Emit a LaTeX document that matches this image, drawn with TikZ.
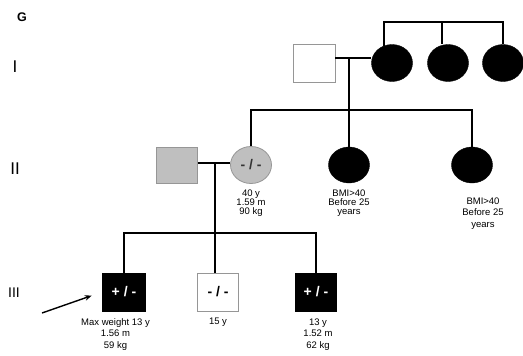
\documentclass[tikz,border=0pt]{standalone}
\usepackage{fontspec}
\setmainfont{Liberation Sans}
\usetikzlibrary{positioning}
\usetikzlibrary{shapes.geometric}
\usetikzlibrary{arrows.meta}

\definecolor{carrier}{RGB}{191,191,191}
\definecolor{grayline}{RGB}{150,150,150}

\tikzset{
  male/.style={rectangle, minimum width=42pt, minimum height=38pt, inner sep=0pt, draw=grayline, line width=0.8pt},
  female/.style={ellipse, minimum width=41pt, minimum height=37pt, inner sep=0pt},
  affected/.style={fill=black, draw=black, text=white},
  geno/.style={font=\fontsize{14}{14}\selectfont\bfseries},
  info/.style={align=center, inner sep=0pt, font=\fontsize{9.5}{11.5}\selectfont},
  tight/.style={font=\fontsize{9.5}{9}\selectfont},
  gen/.style={font=\fontsize{17}{17}\selectfont},
  line/.style={line width=1.7pt}
}

\begin{document}
\begin{tikzpicture}[x=1pt, y=-1pt]
  \useasboundingbox (0,0) rectangle (523,356);

  \node[font=\fontsize{12.5}{12.5}\selectfont\bfseries] at (22,17.5) (G) {G};
  \node[gen] at (15,67) (I) {I};
  \node[gen] at (15,169) (II) {II};
  \node[gen, font=\fontsize{14}{14}\selectfont] at (14,293) (III) {III};

  % generation I
  \node[male, fill=white] at (314,63) (gf) {};
  \node[female, affected] at (392,63) (gm) {};
  \node[female, affected] at (448,63) (aunt1) {};
  \node[female, affected] at (503,63) (aunt2) {};

  % generation II
  \node[male, fill=carrier, minimum width=41pt, minimum height=36pt] at (177,165) (father) {};
  \node[female, fill=carrier, draw=grayline, line width=0.8pt, geno, text=black!80] at (251,165) (mother) {- / -};
  \node[female, affected, minimum height=36pt] at (349,165) (sis1) {};
  \node[female, affected, minimum height=36pt] at (472,165) (sis2) {};

  \node[info, tight, below=6pt of mother] (motherinfo) {40 y\\1.59 m\\90 kg};
  \node[info, tight, below=6pt of sis1] (sis1info) {BMI>40\\Before 25\\years};
  \node[info, below=14pt of sis2, xshift=11pt] (sis2info) {BMI>40\\Before 25\\years};

  % generation III
  \node[male, affected, geno, minimum width=43pt] at (124,292) (proband) {+ / -};
  \node[male, fill=white, geno, minimum width=41pt] at (218,292) (brother1) {- / -};
  \node[male, affected, geno, minimum width=41pt] at (316,292) (brother2) {+ / -};

  \node[info, below=7pt of proband, xshift=-8.5pt] (probandinfo) {Max weight 13 y\\1.56 m\\59 kg};
  \node[info, below=6pt of brother1] (brother1info) {15 y};
  \node[info, below=7pt of brother2, xshift=2pt] (brother2info) {13 y\\1.52 m\\62 kg};

  % lines of descent
  \coordinate (sib1) at (442,22);
  \coordinate (m1) at (349,58);
  \coordinate (sib2) at (349,110);
  \coordinate (m2) at (215,163);
  \coordinate (sib3) at (215,233);
  \coordinate (tail) at (42,313);

  \draw[line] (gm.115) -- (gm.115 |- sib1) -- (aunt2.north |- sib1) -- (aunt2.north);
  \draw[line] (sib1) -- (sib1 |- aunt1.north);
  \draw[line] (gf.east |- m1) -- (gm.west |- m1);
  \draw[line] (m1) -- (sib2);

  \draw[line] (mother.north) -- (mother.north |- sib2) -- (sis2.north |- sib2) -- (sis2.north);
  \draw[line] (sib2) -- (sis1.north);
  \draw[line] (father.east |- m2) -- (mother.west |- m2);
  \draw[line] (m2) -- (sib3);

  \draw[line] (proband.north) -- (proband.north |- sib3) -- (brother2.north |- sib3) -- (brother2.north);
  \draw[line] (sib3) -- (sib3 |- brother1.north);

  \draw[line width=1.4pt, -{Stealth[length=7pt, width=5.5pt]}, shorten >=11pt] (tail) -- (proband.west);
\end{tikzpicture}
\end{document}
